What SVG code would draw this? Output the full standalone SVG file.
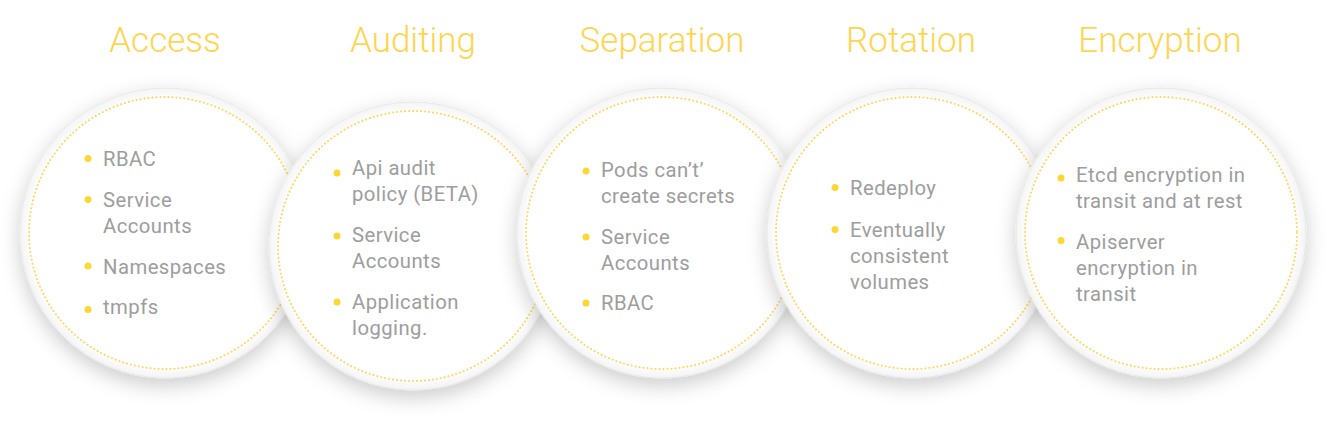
<svg xmlns="http://www.w3.org/2000/svg" width="1334" height="430" viewBox="0 0 1334 430">
<defs>
  <filter id="shadow" x="-30%" y="-30%" width="160%" height="160%">
    <feDropShadow dx="0" dy="7" stdDeviation="10" flood-color="#000" flood-opacity="0.2"/>
  </filter>
  <radialGradient id="disc" cx="50%" cy="50%" r="50%">
    <stop offset="0.92" stop-color="#ffffff"/>
    <stop offset="1" stop-color="#f4f4f4"/>
  </radialGradient>
</defs>
<style>
  .title{font-family:Roboto,"Liberation Sans",sans-serif;font-weight:300;font-size:35px;fill:#FFD54F;text-anchor:middle}
  .item{font-family:Roboto,"Liberation Sans",sans-serif;font-weight:400;font-size:20.3px;letter-spacing:0.45px;fill:#9d9d9d}
  .disc{fill:url(#disc);stroke:#e8e8e8;stroke-width:1;filter:url(#shadow)}
  .ring{fill:none;stroke:#FFD54F;stroke-width:1.9;stroke-dasharray:0.1 3.9;stroke-linecap:round}
  .dot{fill:#FDD835}
</style>
<rect width="1334" height="430" fill="#ffffff"/>
<g id="connectors"/>

<g id="access">
  <text class="title" x="165" y="52">Access</text>
  <circle class="disc" cx="165" cy="233" r="145"/>
  <circle class="ring" cx="165" cy="233" r="136"/>
  <circle class="dot" cx="88" cy="158.5" r="3.5"/>
  <text class="item" x="103" y="166">RBAC</text>
  <circle class="dot" cx="88" cy="199.5" r="3.5"/>
  <text class="item" x="103" y="207">Service</text>
  <text class="item" x="103" y="233">Accounts</text>
  <circle class="dot" cx="88" cy="266" r="3.5"/>
  <text class="item" x="103" y="274">Namespaces</text>
  <circle class="dot" cx="88" cy="309.5" r="3.5"/>
  <text class="item" x="103" y="314">tmpfs</text>
</g>

<g id="auditing">
  <text class="title" x="413" y="52">Auditing</text>
  <circle class="disc" cx="413" cy="246" r="144"/>
  <circle class="ring" cx="413" cy="246" r="135"/>
  <circle class="dot" cx="337" cy="173" r="3.5"/>
  <text class="item" x="352" y="175">Api audit</text>
  <text class="item" x="352" y="201">policy (BETA)</text>
  <circle class="dot" cx="337" cy="236" r="3.5"/>
  <text class="item" x="352" y="242">Service</text>
  <text class="item" x="352" y="268">Accounts</text>
  <circle class="dot" cx="337" cy="302" r="3.5"/>
  <text class="item" x="352" y="309">Application</text>
  <text class="item" x="352" y="335">logging.</text>
</g>

<g id="separation">
  <text class="title" x="662" y="52">Separation</text>
  <circle class="disc" cx="662" cy="233" r="145"/>
  <circle class="ring" cx="662" cy="233" r="136"/>
  <circle class="dot" cx="586" cy="171" r="3.5"/>
  <text class="item" x="601" y="177">Pods can’t’</text>
  <text class="item" x="601" y="203">create secrets</text>
  <circle class="dot" cx="586" cy="237" r="3.5"/>
  <text class="item" x="601" y="244">Service</text>
  <text class="item" x="601" y="270">Accounts</text>
  <circle class="dot" cx="586" cy="303" r="3.5"/>
  <text class="item" x="601" y="310">RBAC</text>
</g>

<g id="rotation">
  <text class="title" x="911" y="52">Rotation</text>
  <circle class="disc" cx="912" cy="233" r="145"/>
  <circle class="ring" cx="912" cy="233" r="136"/>
  <circle class="dot" cx="835" cy="187.5" r="3.5"/>
  <text class="item" x="850" y="195">Redeploy</text>
  <circle class="dot" cx="835" cy="229.5" r="3.5"/>
  <text class="item" x="850" y="236.5">Eventually</text>
  <text class="item" x="850" y="262.5">consistent</text>
  <text class="item" x="850" y="288.5">volumes</text>
</g>

<g id="encryption">
  <text class="title" x="1160" y="52">Encryption</text>
  <circle class="disc" cx="1161" cy="233" r="145"/>
  <circle class="ring" cx="1161" cy="233" r="136"/>
  <circle class="dot" cx="1061" cy="178" r="3.5"/>
  <text class="item" x="1076" y="181.5">Etcd encryption in</text>
  <text class="item" x="1076" y="208">transit and at rest</text>
  <circle class="dot" cx="1061" cy="240.5" r="3.5"/>
  <text class="item" x="1076" y="249">Apiserver</text>
  <text class="item" x="1076" y="275">encryption in</text>
  <text class="item" x="1076" y="301">transit</text>
</g>
</svg>
